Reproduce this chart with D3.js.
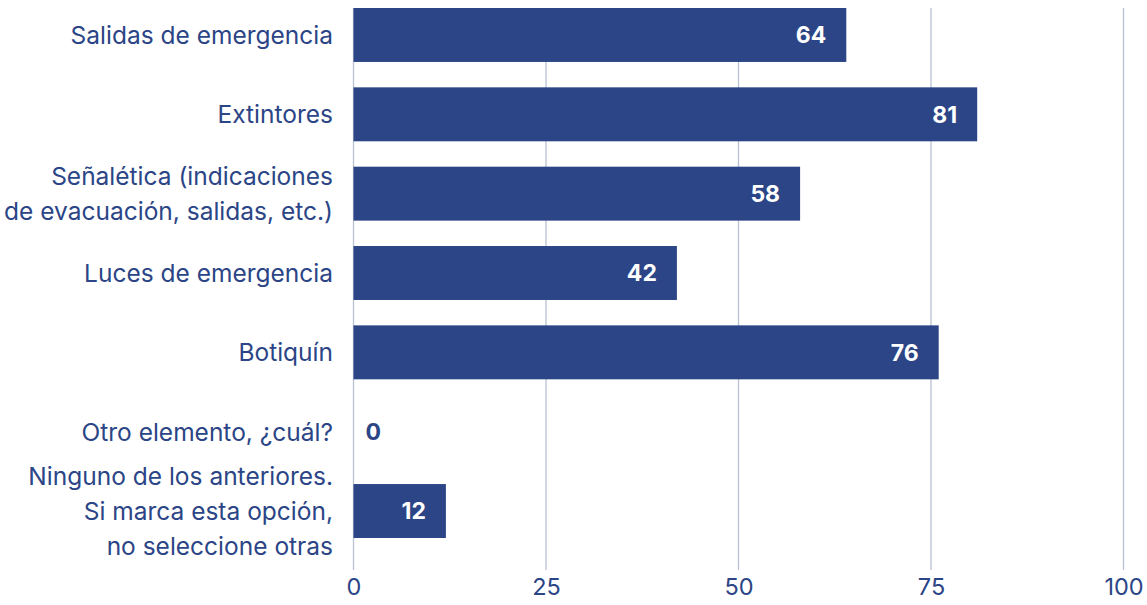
<!DOCTYPE html>
<html><head><meta charset="utf-8">
<script src="https://cdn.jsdelivr.net/npm/d3@7"></script>
<style>body{margin:0;background:#fff}svg{display:block}</style>
</head><body>
<svg id="c" width="1147" height="605"></svg>
<script>
const categories = [
  ["Salidas de emergencia"],
  ["Extintores"],
  ["Señalética (indicaciones", "de evacuación, salidas, etc.)"],
  ["Luces de emergencia"],
  ["Botiquín"],
  ["Otro elemento, ¿cuál?"],
  ["Ninguno de los anteriores.", "Si marca esta opción,", "no seleccione otras"]
];
const values = [64, 81, 58, 42, 76, 0, 12];
const ticks = [0, 25, 50, 75, 100];

const color = "#2b4586";
const font = "Inter, 'Noto Sans', sans-serif";
const svg = d3.select("#c");
const x = d3.scaleLinear().domain([0, 100]).range([353.5, 1123.5]);
const y = d3.scaleBand().domain(d3.range(values.length)).range([8, 538]).paddingInner(0.32).paddingOuter(0);

// grid
svg.append("g").selectAll("line").data(ticks).join("line")
  .attr("x1", d => x(d)).attr("x2", d => x(d))
  .attr("y1", 8).attr("y2", 570)
  .attr("stroke", "#b7c1d3").attr("stroke-width", 1.3);

// axis labels
const ax = svg.append("g").attr("transform", "translate(0,570)")
  .call(d3.axisBottom(x).tickValues(ticks).tickSize(0).tickPadding(8));
ax.select(".domain").remove();
ax.selectAll("text").attr("font-family", font).attr("font-size", 23.5).attr("fill", color);

// bars
svg.append("g").selectAll("rect").data(values).join("rect")
  .attr("x", x(0)).attr("y", (d, i) => y(i))
  .attr("width", d => x(d) - x(0)).attr("height", y.bandwidth())
  .attr("fill", color);

// value labels
svg.append("g").selectAll("text").data(values).join("text")
  .attr("x", d => d > 5 ? x(d) - 20 : x(d) + 12)
  .attr("y", (d, i) => y(i) + y.bandwidth() / 2)
  .attr("dy", "0.36em")
  .attr("text-anchor", d => d > 5 ? "end" : "start")
  .attr("font-family", font).attr("font-weight", 700).attr("font-size", 23)
  .attr("fill", d => d > 5 ? "#fff" : color)
  .text(d => d);

// category labels
const lh = 35;
const cg = svg.append("g").selectAll("text").data(categories).join("text")
  .attr("x", 333)
  .attr("y", (d, i) => y(i) + y.bandwidth() / 2 - (d.length - 1) * lh / 2)
  .attr("text-anchor", "end")
  .attr("font-family", font).attr("font-size", 24.5).attr("fill", color);
cg.selectAll("tspan").data(d => d).join("tspan")
  .attr("x", 333).attr("dy", (d, i) => i === 0 ? "0.36em" : lh)
  .text(d => d);
</script>
</body></html>
